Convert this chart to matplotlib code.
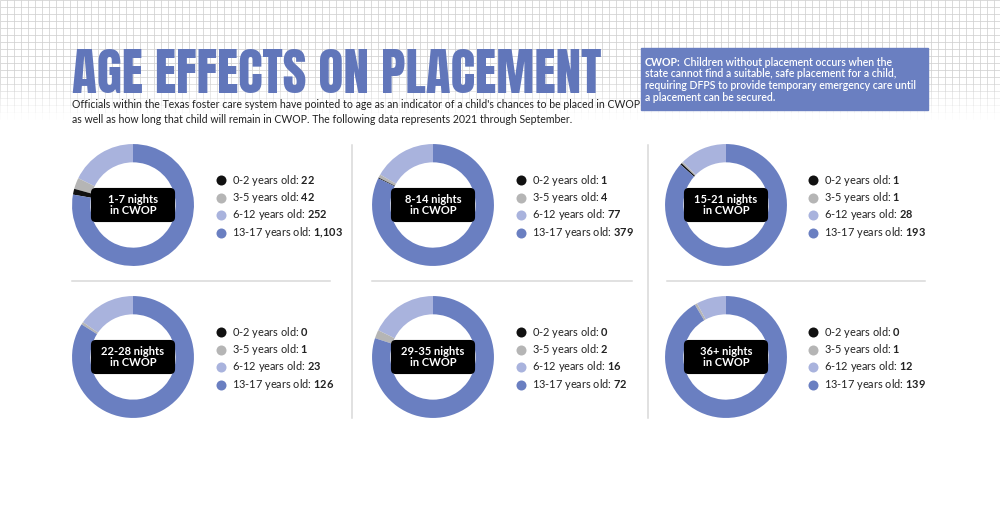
import numpy as np
import matplotlib
matplotlib.use("Agg")
import matplotlib.pyplot as plt
from matplotlib.patches import Rectangle, FancyBboxPatch
from matplotlib.collections import LineCollection

# data
age_groups = ["0-2 years old", "3-5 years old", "6-12 years old", "13-17 years old"]
stay_labels = ["1-7 nights\nin CWOP", "8-14 nights\nin CWOP", "15-21 nights\nin CWOP",
               "22-28 nights\nin CWOP", "29-35 nights\nin CWOP", "36+ nights\nin CWOP"]
age_0_2 = [22, 1, 1, 0, 0, 0]
age_3_5 = [42, 4, 1, 1, 2, 1]
age_6_12 = [252, 77, 28, 23, 16, 12]
age_13_17 = [1103, 379, 193, 126, 72, 139]

title = "AGE EFFECTS ON PLACEMENT"
intro = ("Officials within the Texas foster care system have pointed to age as an indicator of a child's chances to be placed in CWOP\n"
         "as well as how long that child will remain in CWOP. The following data represents 2021 through September.")
note_head = "CWOP:"
note_lines = [" Children without placement occurs when the",
              "state cannot find a suitable, safe placement for a child,",
              "requiring DFPS to provide temporary emergency care until",
              "a placement can be secured."]

dark = "#6a7fc1"
light = "#a9b3dd"
grey = "#b5b5b5"
black = "#111111"
age_colors = [black, grey, light, dark]

plt.rcParams["font.family"] = ["Lato", "DejaVu Sans"]
plt.rcParams["mathtext.fontset"] = "custom"
plt.rcParams["mathtext.rm"] = "Lato"
plt.rcParams["mathtext.bf"] = "Lato:bold"

W, H = 1000, 523
fig = plt.figure(figsize=(W / 100, H / 100), dpi=100)
bg = fig.add_axes([0, 0, 1, 1])
bg.set_xlim(0, W)
bg.set_ylim(H, 0)
bg.axis("off")
rend = fig.canvas.get_renderer()

# graph paper at the top, fading out
step = 7
segs, alphas = [], []
for y in np.arange(0, 120, step):
    a = 1.0 if y < 75 else max(0, 1 - (y - 75) / 40)
    segs.append([(0, y), (W, y)])
    alphas.append(a)
    for x in np.arange(0, W + 1, step):
        segs.append([(x, y), (x, y + step)])
        alphas.append(a)
cols = [(0.8, 0.8, 0.8, a) for a in alphas]
bg.add_collection(LineCollection(segs, colors=cols, linewidths=0.5))

# title, sized to the width it has in the original
tt = bg.text(72, 93, title, fontsize=40, color="#6176ba",
             family=["Anton", "DejaVu Sans"], va="baseline", ha="left")
w = tt.get_window_extent(rend).width
tt.set_fontsize(40 * 528 / w)

bg.text(72, 112, intro, fontsize=7.6, color="#222222", va="center", ha="left",
        linespacing=1.35)

bg.add_patch(Rectangle((641, 48), 287, 62, color=dark, zorder=3))
hd = bg.text(645, 62, note_head, fontsize=7.6, color="white", va="center",
             ha="left", fontweight="bold", zorder=4)
hw = hd.get_window_extent(rend).width
for i, ln in enumerate(note_lines):
    x0 = 645 + hw if i == 0 else 645
    bg.text(x0, 62 + i * 11.7, ln, fontsize=7.6, color="white", va="center",
            ha="left", fontweight="semibold", zorder=4)

# separators
for x in (352, 648):
    bg.plot([x, x], [145, 418], color="#d9d9d9", lw=1.1)
for x0, x1 in ((72, 330), (372, 632), (667, 925)):
    bg.plot([x0, x1], [281, 281], color="#d9d9d9", lw=1.1)

centers = [(133, 205), (433, 205), (726, 205), (133, 357), (433, 357), (726, 357)]
legend_x = [221, 521, 813]
row_off = [-25, -7.5, 10, 27.5]

for k in range(6):
    cx, cy = centers[k]
    vals = [age_6_12[k], age_3_5[k], age_0_2[k], age_13_17[k]]
    size = 128
    ax = fig.add_axes([(cx - size / 2) / W, 1 - (cy + size / 2) / H, size / W, size / H])
    ax.pie(vals, colors=[light, grey, black, dark], startangle=90, counterclock=True,
           wedgeprops=dict(width=0.3, linewidth=0))
    ax.set_xlim(-1.05, 1.05)
    ax.set_ylim(-1.05, 1.05)
    ax.add_patch(FancyBboxPatch((-0.69, -0.28), 1.38, 0.56,
                                boxstyle="round,pad=0,rounding_size=0.08",
                                fc="black", ec="none"))
    ax.text(0, 0, stay_labels[k], ha="center", va="center", color="white",
            fontsize=8, fontweight="bold", linespacing=1.0)

    lx = legend_x[k % 3]
    series = [age_0_2[k], age_3_5[k], age_6_12[k], age_13_17[k]]
    for j in range(4):
        ly = cy + row_off[j]
        bg.scatter([lx], [ly], s=52, color=age_colors[j], zorder=5, linewidths=0)
        val = f"{series[j]:,}".replace(",", "{,}")
        bg.text(lx + 11, ly, age_groups[j] + ": $\\mathbf{" + val + "}$",
                fontsize=7.9, color="#222222", va="center", ha="left")

fig.savefig("out.png", dpi=100)
